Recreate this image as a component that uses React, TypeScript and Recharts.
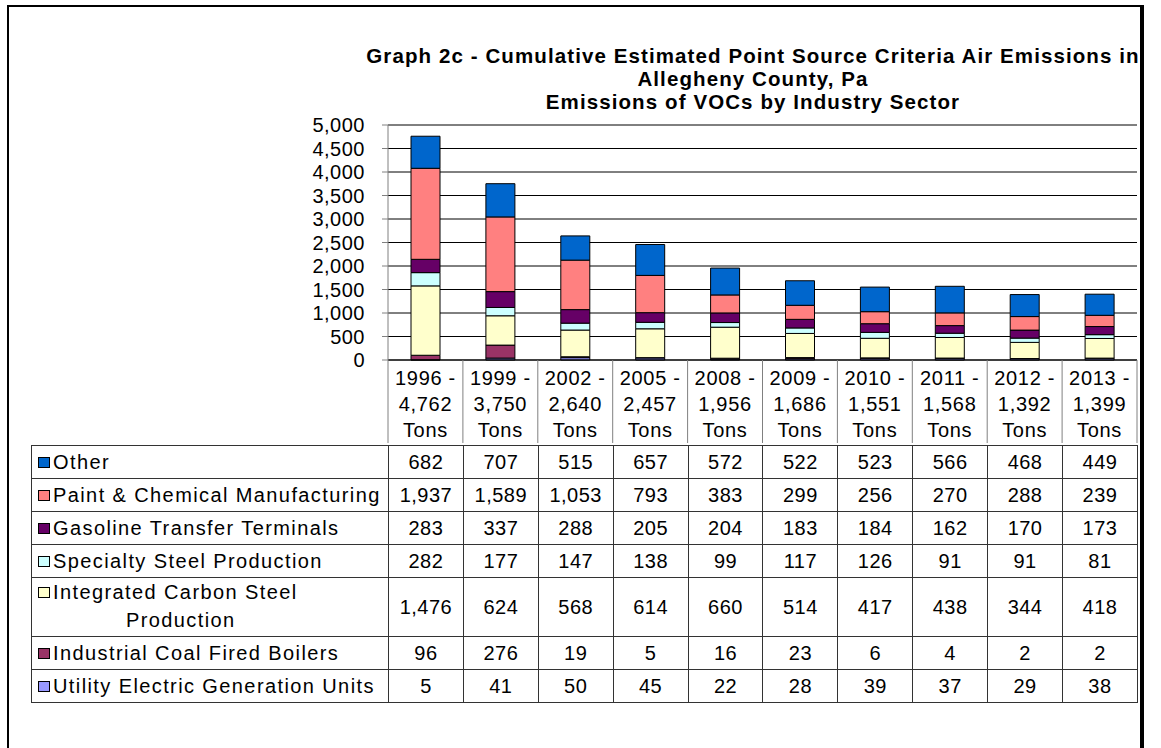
import React from "react";
import { BarChart, Bar, XAxis, YAxis, CartesianGrid } from "recharts";

const years = ["1996", "1999", "2002", "2005", "2008", "2009", "2010", "2011", "2012", "2013"];
const totals = [4762, 3750, 2640, 2457, 1956, 1686, 1551, 1568, 1392, 1399];

const utility = [5, 41, 50, 45, 22, 28, 39, 37, 29, 38];
const boilers = [96, 276, 19, 5, 16, 23, 6, 4, 2, 2];
const integrated = [1476, 624, 568, 614, 660, 514, 417, 438, 344, 418];
const specialty = [282, 177, 147, 138, 99, 117, 126, 91, 91, 81];
const gasoline = [283, 337, 288, 205, 204, 183, 184, 162, 170, 173];
const paint = [1937, 1589, 1053, 793, 383, 299, 256, 270, 288, 239];
const other = [682, 707, 515, 657, 572, 522, 523, 566, 468, 449];

const yTicks = [0, 500, 1000, 1500, 2000, 2500, 3000, 3500, 4000, 4500, 5000];

// stack order, bottom to top
const series = [
  { key: "utility", name: "Utility Electric Generation Units", values: utility, color: "#9999FF" },
  { key: "boilers", name: "Industrial Coal Fired Boilers", values: boilers, color: "#993366" },
  { key: "integrated", name: "Integrated Carbon Steel Production", values: integrated, color: "#FFFFCC" },
  { key: "specialty", name: "Specialty Steel Production", values: specialty, color: "#CCFFFF" },
  { key: "gasoline", name: "Gasoline Transfer Terminals", values: gasoline, color: "#660066" },
  { key: "paint", name: "Paint & Chemical Manufacturing", values: paint, color: "#FF8080" },
  { key: "other", name: "Other", values: other, color: "#0066CC" },
];

const data = years.map((year, i) => {
  const row: Record<string, any> = { year, total: totals[i] };
  series.forEach((s) => (row[s.key] = s.values[i]));
  return row;
});

const FONT = "'Liberation Sans', Arial, sans-serif";
const fmt = (v: number) => v.toLocaleString("en-US");
const COL_W = 74.9;

function HeaderTick(props: any) {
  const { x, y, payload, index } = props;
  const total = totals[index];
  const half = COL_W / 2;
  return (
    <g>
      <line x1={x - half} y1={y} x2={x - half} y2={y + 83} stroke="#808080" />
      {index === years.length - 1 && (
        <line x1={x + half} y1={y} x2={x + half} y2={y + 83} stroke="#808080" />
      )}
      <text textAnchor="middle" fontFamily={FONT} fontSize={20} letterSpacing={0.7} fill="#000">
        <tspan x={x} y={y + 25}>{payload.value} -</tspan>
        <tspan x={x} y={y + 51}>{fmt(total)}</tspan>
        <tspan x={x} y={y + 77}>Tons</tspan>
      </text>
    </g>
  );
}

function Swatch({ color }: { color: string }) {
  return (
    <span
      style={{
        display: "inline-block",
        width: 12,
        height: 11,
        background: color,
        border: "1px solid #000",
        boxSizing: "border-box",
        marginRight: 3,
        flex: "none",
      }}
    />
  );
}

export default function App() {
  const tableRows = [...series].reverse();
  const rowHeights = tableRows.map((s) => (s.key === "integrated" ? 59 : 33));
  const cell: React.CSSProperties = {
    borderRight: "1px solid #333",
    borderBottom: "1px solid #333",
    boxSizing: "border-box",
    display: "flex",
    alignItems: "center",
    justifyContent: "center",
    fontSize: 20,
    letterSpacing: 0.5,
  };
  return (
    <div style={{ position: "absolute", left: 0, top: 0, width: 1161, height: 748, overflow: "hidden", background: "#fff", fontFamily: FONT, color: "#000" }}>
      <div
        style={{
          position: "absolute",
          left: 7,
          top: 5,
          width: 1137,
          height: 743,
          borderLeft: "2px solid #000",
          borderTop: "2px solid #000",
          borderRight: "4px solid #000",
          boxSizing: "border-box",
        }}
      />
      <div
        style={{
          position: "absolute",
          left: 353,
          top: 44,
          width: 800,
          textAlign: "center",
          fontWeight: "bold",
          fontSize: 20.5,
          lineHeight: "23px",
          letterSpacing: 1.1,
          whiteSpace: "nowrap",
        }}
      >
        <div>Graph 2c - Cumulative Estimated Point Source Criteria Air Emissions in</div>
        <div>Allegheny County, Pa</div>
        <div>Emissions of VOCs by Industry Sector</div>
      </div>
      <div style={{ position: "absolute", left: 0, top: 0 }}>
        <BarChart width={1161} height={450} data={data} margin={{ top: 125, right: 24, left: 328, bottom: 7 }} barSize={29}>
          <CartesianGrid vertical={false} stroke="#000" />
          <XAxis
            dataKey="year"
            interval={0}
            height={83}
            tickLine={false}
            tickSize={0}
            tickMargin={0}
            axisLine={{ stroke: "#000" }}
            tick={<HeaderTick />}
          />
          <YAxis
            width={60}
            domain={[0, 5000]}
            ticks={yTicks}
            interval={0}
            tickFormatter={fmt}
            tickSize={6}
            tickMargin={17}
            axisLine={{ stroke: "#808080" }}
            tickLine={{ stroke: "#808080" }}
            tick={{ fill: "#000", fontSize: 20, fontFamily: FONT, letterSpacing: 0.5 }}
          />
          <YAxis yAxisId="right" orientation="right" width={0} tick={false} tickLine={false} axisLine={{ stroke: "#999" }} />
          {series.map((s) => (
            <Bar key={s.key} dataKey={s.key} name={s.name} stackId="a" fill={s.color} stroke="#000" strokeWidth={1} isAnimationActive={false} />
          ))}
        </BarChart>
      </div>
      <div
        style={{
          position: "absolute",
          left: 31,
          top: 445,
          display: "grid",
          gridTemplateColumns: `357px repeat(${years.length}, ${COL_W}px)`,
          gridTemplateRows: rowHeights.map((h) => `${h}px`).join(" "),
          borderLeft: "1px solid #333",
          borderTop: "1px solid #333",
        }}
      >
        {tableRows.map((s) => (
          <React.Fragment key={s.key}>
            <div style={{ ...cell, justifyContent: "flex-start", paddingLeft: 6, letterSpacing: 1.4 }}>
              {s.key === "integrated" ? (
                <div style={{ lineHeight: "28px", marginTop: -2 }}>
                  <div style={{ display: "flex", alignItems: "center" }}>
                    <Swatch color={s.color} />
                    <span>Integrated Carbon Steel</span>
                  </div>
                  <div style={{ paddingLeft: 88 }}>Production</div>
                </div>
              ) : (
                <>
                  <Swatch color={s.color} />
                  <span>{s.name}</span>
                </>
              )}
            </div>
            {s.values.map((v, i) => (
              <div key={i} style={cell}>
                {fmt(v)}
              </div>
            ))}
          </React.Fragment>
        ))}
      </div>
    </div>
  );
}
